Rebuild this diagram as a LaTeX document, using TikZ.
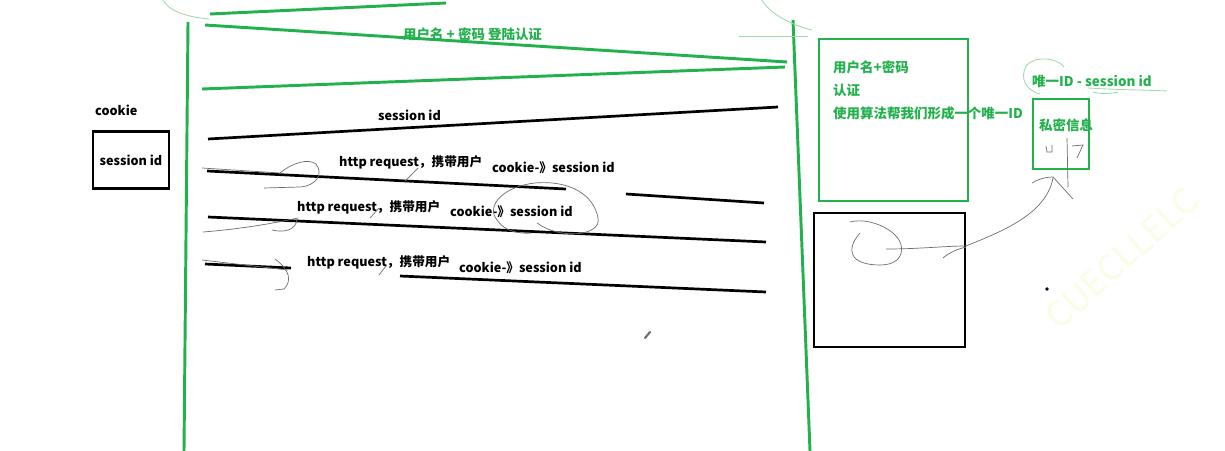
\documentclass[tikz,border=0pt]{standalone}
\usepackage{fontspec}
\setmainfont{Noto Sans CJK SC}
\usetikzlibrary{positioning}
\definecolor{skgreen}{HTML}{22B14C}
\definecolor{sklight}{HTML}{9ED8AC}
\definecolor{pengray}{HTML}{6E6E6E}
\definecolor{wmark}{HTML}{F9FDE6}
\tikzset{
  gline/.style={draw=skgreen, line width=2.5pt},
  bline/.style={draw=black, line width=2.3pt},
  gbox/.style={rectangle, draw=skgreen, line width=2.5pt, inner sep=0pt},
  bbox/.style={rectangle, draw=black, line width=2.5pt, inner sep=0pt},
  pen/.style={draw=pengray, line width=0.6pt},
  lightpen/.style={draw=sklight, line width=0.7pt},
  msg/.style={anchor=west, inner sep=0pt, font=\bfseries\fontsize{10.8}{12}\selectfont},
  gmsg/.style={anchor=west, inner sep=0pt, text=skgreen, font=\bfseries\fontsize{11.5}{13}\selectfont},
}

\begin{document}
\begin{tikzpicture}[x=0.03cm, y=-0.03cm]

  \fill[white] (0,0) rectangle (1225,451);
  \useasboundingbox (0,0) rectangle (1225,451);

  % --- watermark ---
  \node[rotate=42, anchor=south west, inner sep=0pt, text=wmark,
        font=\fontsize{30}{30}\selectfont] (wm) at (1060,332) {CUECLLELC};

  % --- lifelines: browser / server ---
  \coordinate (cl-top) at (188,22);   \coordinate (cl-bot) at (184,451);
  \coordinate (sv-top) at (793,20);   \coordinate (sv-bot) at (810,451);
  \draw[gline] (cl-top) -- (cl-bot);
  \draw[gline] (sv-top) -- (sv-bot);

  % --- login: username + password ---
  \coordinate (l0a) at (210,14);  \coordinate (l0b) at (446,3);
  \coordinate (l1a) at (205,25);  \coordinate (l1b) at (787,62);
  \coordinate (l2a) at (202,89);  \coordinate (l2b) at (785,67);
  \draw[gline] (l0a) -- (l0b);
  \draw[gline] (l1a) -- (l1b);
  \draw[gline] (l2a) -- (l2b);
  \node[gmsg] (login) at (403,34) {用户名 + 密码 登陆认证};

  % --- session id back to browser ---
  \coordinate (sida) at (208,139);  \coordinate (sidb) at (778,107);
  \draw[bline] (sida) -- (sidb);
  \node[msg] (sidlbl) at (378,115) {session id};

  % --- requests carrying the cookie ---
  \coordinate (r1a) at (207,171);  \coordinate (r1b) at (566,189);
  \coordinate (r1c) at (626,194);  \coordinate (r1d) at (764,203);
  \coordinate (r2a) at (208,217);  \coordinate (r2b) at (766,242);
  \coordinate (r3a) at (205,264);  \coordinate (r3b) at (291,268);
  \coordinate (r3c) at (400,276);  \coordinate (r3d) at (766,292);
  \draw[bline] (r1a) -- (r1b);
  \draw[bline] (r1c) -- (r1d);
  \draw[bline] (r2a) -- (r2b);
  \draw[bline] (r3a) -- (r3b);
  \draw[bline] (r3c) -- (r3d);

  \node[msg] (req1) at (339,162) {http request，携带用户};
  \node[msg] (ck1)  at (492,168) {cookie-》session id};
  \node[msg] (req2) at (297,207) {http request，携带用户};
  \node[msg] (ck2)  at (450,212) {cookie-》session id};
  \node[msg] (req3) at (307,262) {http request，携带用户};
  \node[msg] (ck3)  at (459,268) {cookie-》session id};

  % --- cookie on the client ---
  \node[msg] (cookie) at (95,110) {cookie};
  \node[bbox, minimum width=2.28cm, minimum height=1.71cm] (cbox) at (131,160) {};
  \node[msg, anchor=center] (csid) at (cbox.center) {session id};

  % --- server side ---
  \node[gbox, minimum width=4.47cm, minimum height=4.86cm] (authbox) at (893.5,120) {};
  \node[gmsg] (auth1) at (833,67)  {用户名+密码};
  \node[gmsg] (auth2) at (833,90)  {认证};
  \node[gmsg] (auth3) at (833,113) {使用算法帮我们形成一个唯一ID};

  \node[gmsg] (uid) at (1032,81) {唯一ID - session id};
  \node[gbox, minimum width=1.68cm, minimum height=2.1cm] (privbox) at (1061,134) {};
  \node[gmsg] (priv) at (1039,125) {私密信息};

  \node[bbox, minimum width=4.53cm, minimum height=4.02cm] (store) at (889.5,280) {};
  \fill (1047,289) circle (1.8);

  % --- pen marks ---
  \draw[lightpen] (163,0) .. controls (168,10) and (185,17) .. (209,19);
  \draw[lightpen] (762,0) .. controls (768,12) and (790,25) .. (812,30);
  \draw[lightpen] (739,36) -- (808,36);

  \draw[pen] (202,168) -- (280,173) .. controls (292,163) and (308,158) .. (316,164)
             .. controls (324,174) and (316,186) .. (300,187) -- (264,188);
  \draw[pen] (203,232) .. controls (240,229) and (270,224) .. (298,218);
  \draw[pen] (272,230) .. controls (285,233) and (296,230) .. (297,219);
  \draw[pen] (202,260) -- (288,270);
  \draw[pen] (275,259) .. controls (290,270) and (292,281) .. (284,289) -- (275,290);

  \draw[pen] (405,181) -- (418,168);
  \draw[pen] (370,218) -- (379,208);
  \draw[pen] (379,275) -- (386,266);

  \draw[pen] (537,223) .. controls (560,240) and (602,236) .. (598,218)
             .. controls (594,195) and (570,180) .. (535,183)
             .. controls (505,186) and (485,205) .. (497,220)
             .. controls (505,232) and (520,234) .. (532,233);

  \draw[pen] (860,233) .. controls (845,250) and (850,265) .. (880,265)
             .. controls (905,265) and (906,245) .. (895,235)
             .. controls (885,225) and (865,218) .. (850,222);
  \draw[pen] (886,249) .. controls (920,249) and (945,246) .. (966,246)
             .. controls (1000,232) and (1046,215) .. (1053,178);
  \draw[pen] (943,258) .. controls (950,252) and (958,249) .. (966,247);
  \draw[pen] (1032,183) .. controls (1040,178) and (1048,177) .. (1053,177) -- (1073,199);
  \draw[pen] (1067,138) -- (1068,187);
  \draw[pen] (1046,146) -- (1047,152) -- (1052,152) -- (1052,145);
  \draw[pen] (1072,146) -- (1083,145) -- (1077,158);

  \draw[lightpen] (1064,67) .. controls (1058,58) and (1035,55) .. (1026,66)
                  .. controls (1020,78) and (1025,90) .. (1040,94);
  \draw[lightpen] (1088,88) .. controls (1120,90) and (1150,90) .. (1167,91);
  \draw[lightpen] (1093,92) .. controls (1100,94) and (1110,94) .. (1118,92);

  \draw[pengray, line width=1.8pt, line cap=round] (645,338) -- (650,332);

\end{tikzpicture}
\end{document}
